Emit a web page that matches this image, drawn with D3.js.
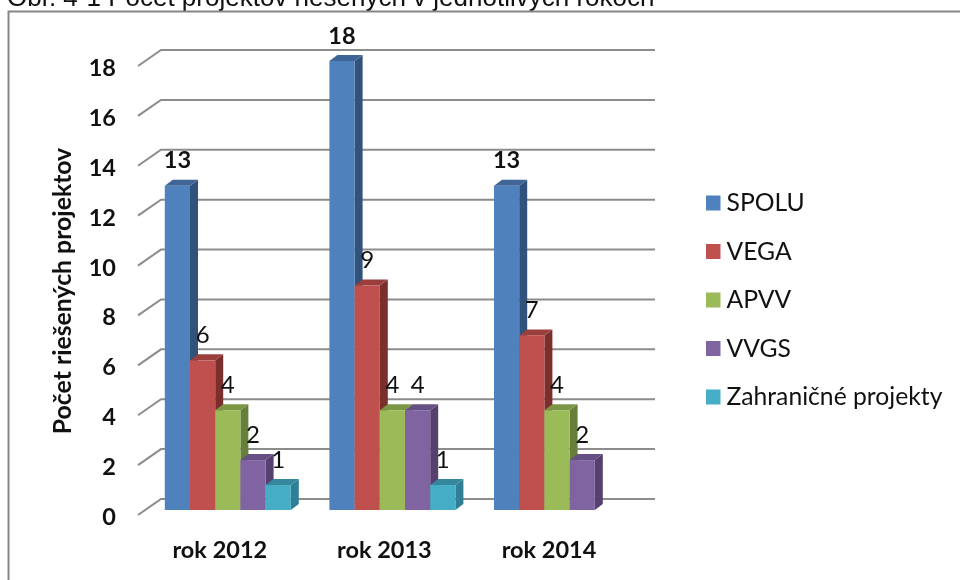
<!DOCTYPE html>
<html><head><meta charset="utf-8">
<script src="https://cdn.jsdelivr.net/npm/d3@7"></script>
<style>html,body{margin:0;padding:0;background:#fff;overflow:hidden}svg{display:block;filter:blur(0.35px)}</style>
</head><body><svg id="c" width="960" height="580"></svg>
<script>
const categories = ["rok 2012","rok 2013","rok 2014"];
const seriesNames = ["SPOLU","VEGA","APVV","VVGS","Zahraničné projekty"];
const spolu = [13,18,13];
const vega = [6,9,7];
const apvv = [4,4,4];
const vvgs = [2,4,2];
const zahranicne = [1,1,null];
const yTicks = [0,2,4,6,8,10,12,14,16,18];
const frontColors = ["#4f81bd","#c0504d","#9bbb59","#8064a2","#46adc6"];
const topColors = ["#3e6596","#9b3f3d","#7b9645","#664f82","#35879e"];
const sideColors = ["#30527b","#7a2f2d","#677f3a","#56406f","#2e7f95"];
const seriesValues = [spolu,vega,apvv,vvgs,zahranicne];

const svg = d3.select("#c");
const calibri = "Lato, Carlito, sans-serif";
const y = d3.scaleLinear().domain([0,18]).range([510,61]);
const x0 = d3.scaleBand().domain(categories).range([137.2,631]).paddingInner(0).paddingOuter(0);
const barW = 25.2;
const barStart = c => x0(c) + 27.6;
const dx = 8, dy = 6;

// title, clipped by the top of the window
svg.append("text").attr("x",7).attr("y",6).attr("font-family","'Liberation Sans',Arial,sans-serif")
  .attr("font-size",26).attr("fill","#111").text("Obr. 4-1 Počet projektov riešených v jednotlivých rokoch");
// frame
svg.append("path").attr("d","M8.5,580V11.5H960").attr("fill","none").attr("stroke","#868686").attr("stroke-width",2);

// gridlines
const grid = svg.append("g").attr("fill","none").attr("stroke","#8c8c8c").attr("stroke-width",2);
grid.selectAll("path").data(yTicks).join("path")
  .attr("d",v=>`M138,${y(v)+5}L161,${y(v)-11}H655`);

// bars
const bars = svg.append("g");
categories.forEach((c,ci)=>{
  seriesValues.forEach((vals,si)=>{
    const v = vals[ci];
    if(v==null) return;
    const xl = barStart(c)+si*barW, xr = xl+barW, t = y(v), b = y(0);
    const g = bars.append("g");
    g.append("path").attr("fill",sideColors[si]).attr("d",`M${xr},${t}L${xr+dx},${t-dy}V${b-dy}L${xr},${b}Z`);
    g.append("path").attr("fill",topColors[si]).attr("d",`M${xl},${t}L${xl+dx},${t-dy}H${xr+dx}L${xr},${t}Z`);
    g.append("rect").attr("x",xl).attr("y",t).attr("width",barW).attr("height",b-t).attr("fill",frontColors[si]);
  });
});

// data labels
const labels = svg.append("g").attr("font-family",calibri).attr("text-anchor","middle").attr("fill","#111");
categories.forEach((c,ci)=>{
  seriesValues.forEach((vals,si)=>{
    const v = vals[ci];
    if(v==null) return;
    labels.append("text").attr("x",barStart(c)+si*barW+barW/2).attr("y",y(v)-17.5)
      .attr("font-size",si===0?23.5:24).attr("font-weight",si===0?"700":"400").text(v);
  });
});

// y axis labels
const yAxis = svg.append("g").attr("transform","translate(116,7)")
  .call(d3.axisLeft(y).tickValues(yTicks).tickSize(0).tickPadding(0));
yAxis.select(".domain").remove();
yAxis.selectAll("text").attr("font-family",calibri).attr("font-size",23.5).attr("font-weight","700").attr("fill","#111");

svg.append("text").attr("transform","translate(71,291) rotate(-90)").attr("text-anchor","middle")
  .attr("font-family",calibri).attr("font-size",24.8).attr("font-weight","700").attr("fill","#111").text("Počet riešených projektov");

// category labels
svg.append("g").selectAll("text").data(categories).join("text")
  .attr("x",c=>x0(c)+82.6).attr("y",558).attr("text-anchor","middle")
  .attr("font-family",calibri).attr("font-size",23.5).attr("font-weight","700").attr("fill","#111").text(c=>c);

// legend
const ly = d3.scalePoint().domain(seriesNames).range([203,397]);
const legend = svg.append("g").selectAll("g").data(seriesNames).join("g").attr("transform",n=>`translate(706,${ly(n)})`);
legend.append("rect").attr("y",-7.5).attr("width",14.5).attr("height",15).attr("fill",(n,i)=>frontColors[i]);
legend.append("text").attr("x",20.5).attr("y",8).attr("font-family",calibri).attr("font-size",24.7).attr("fill","#111").text(n=>n);
</script></body></html>
